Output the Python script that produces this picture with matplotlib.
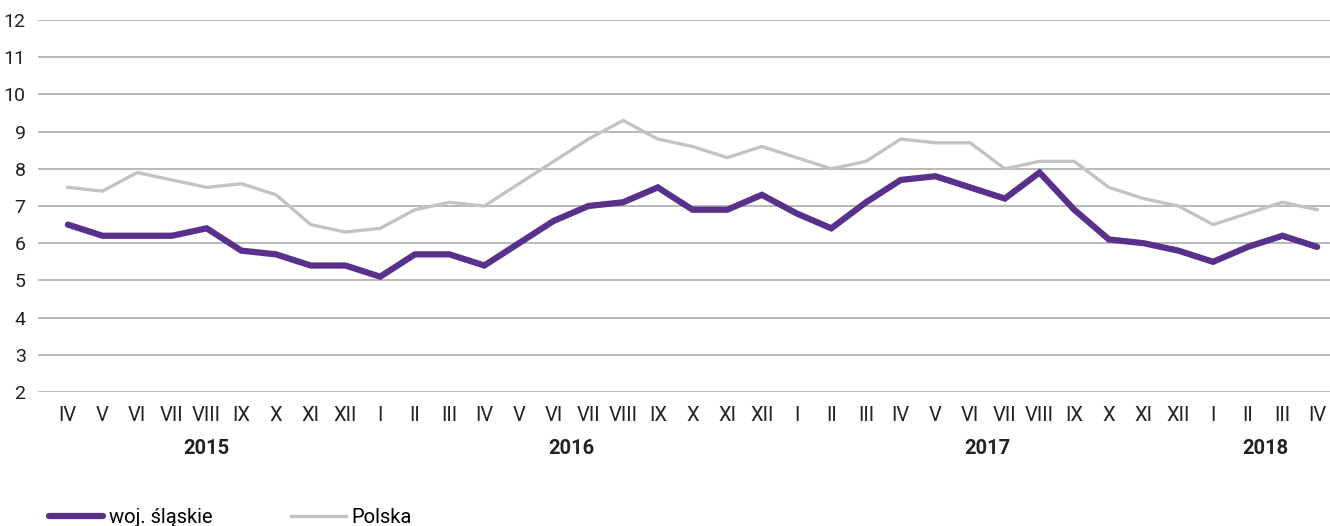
import matplotlib
matplotlib.use("Agg")
import matplotlib.pyplot as plt

plt.rcParams["font.family"] = ["Roboto", "DejaVu Sans"]

COLOR_SLASKIE = "#58318c"
COLOR_POLSKA = "#c3c3c3"
COLOR_GRID = "#a6a6a6"

months = (["IV", "V", "VI", "VII", "VIII", "IX", "X", "XI", "XII"]
          + ["I", "II", "III", "IV", "V", "VI", "VII", "VIII", "IX", "X", "XI", "XII"]
          + ["I", "II", "III", "IV", "V", "VI", "VII", "VIII", "IX", "X", "XI", "XII"]
          + ["I", "II", "III", "IV"])
years = ["2015", "2016", "2017", "2018"]
months_per_year = [9, 12, 12, 4]

slaskie = [6.5, 6.2, 6.2, 6.2, 6.4, 5.8, 5.7, 5.4, 5.4,
           5.1, 5.7, 5.7, 5.4, 6.0, 6.6, 7.0, 7.1, 7.5, 6.9, 6.9, 7.3,
           6.8, 6.4, 7.1, 7.7, 7.8, 7.5, 7.2, 7.9, 6.9, 6.1, 6.0, 5.8,
           5.5, 5.9, 6.2, 5.9]
polska = [7.5, 7.4, 7.9, 7.7, 7.5, 7.6, 7.3, 6.5, 6.3,
          6.4, 6.9, 7.1, 7.0, 7.6, 8.2, 8.8, 9.3, 8.8, 8.6, 8.3, 8.6,
          8.3, 8.0, 8.2, 8.8, 8.7, 8.7, 8.0, 8.2, 8.2, 7.5, 7.2, 7.0,
          6.5, 6.8, 7.1, 6.9]

x = list(range(len(months)))

fig = plt.figure(figsize=(13.3, 5.26), dpi=100)
ax = fig.add_axes([38 / 1330, 134 / 526, 1 - 38 / 1330, 372 / 526])

ax.plot(x, slaskie, color=COLOR_SLASKIE, linewidth=4.5, label="woj. śląskie",
        solid_joinstyle="miter", solid_capstyle="round", zorder=3)
ax.plot(x, polska, color=COLOR_POLSKA, linewidth=2.4, label="Polska", zorder=2)

ax.set_ylim(2, 12)
ax.set_xlim(-0.86, 36.37)
ax.set_yticks(range(2, 13))
ax.yaxis.grid(True, color=COLOR_GRID, linewidth=1.1)
ax.set_axisbelow(True)
for spine in ax.spines.values():
    spine.set_visible(False)
ax.tick_params(axis="y", length=0, pad=9, labelsize=14, colors="#222")
ax.tick_params(axis="x", length=0, pad=10, labelsize=14.5, colors="#222")
ax.set_xticks(x)
ax.set_xticklabels(months)

# year labels centred under each group of months
start = 0
for year, n in zip(years, months_per_year):
    centre = start + (n - 1) / 2
    ax.text(centre, -0.152, year, transform=ax.get_xaxis_transform(),
            ha="center", va="center", fontsize=14.5, fontweight="bold", color="#222")
    start += n

fig.legend(loc="lower left", bbox_to_anchor=(0.023, -0.036), ncol=2, frameon=False,
           fontsize=14.5, handlelength=2.7, columnspacing=3.9, handletextpad=0.3)

fig.savefig("out.png", dpi=100, facecolor="white")
